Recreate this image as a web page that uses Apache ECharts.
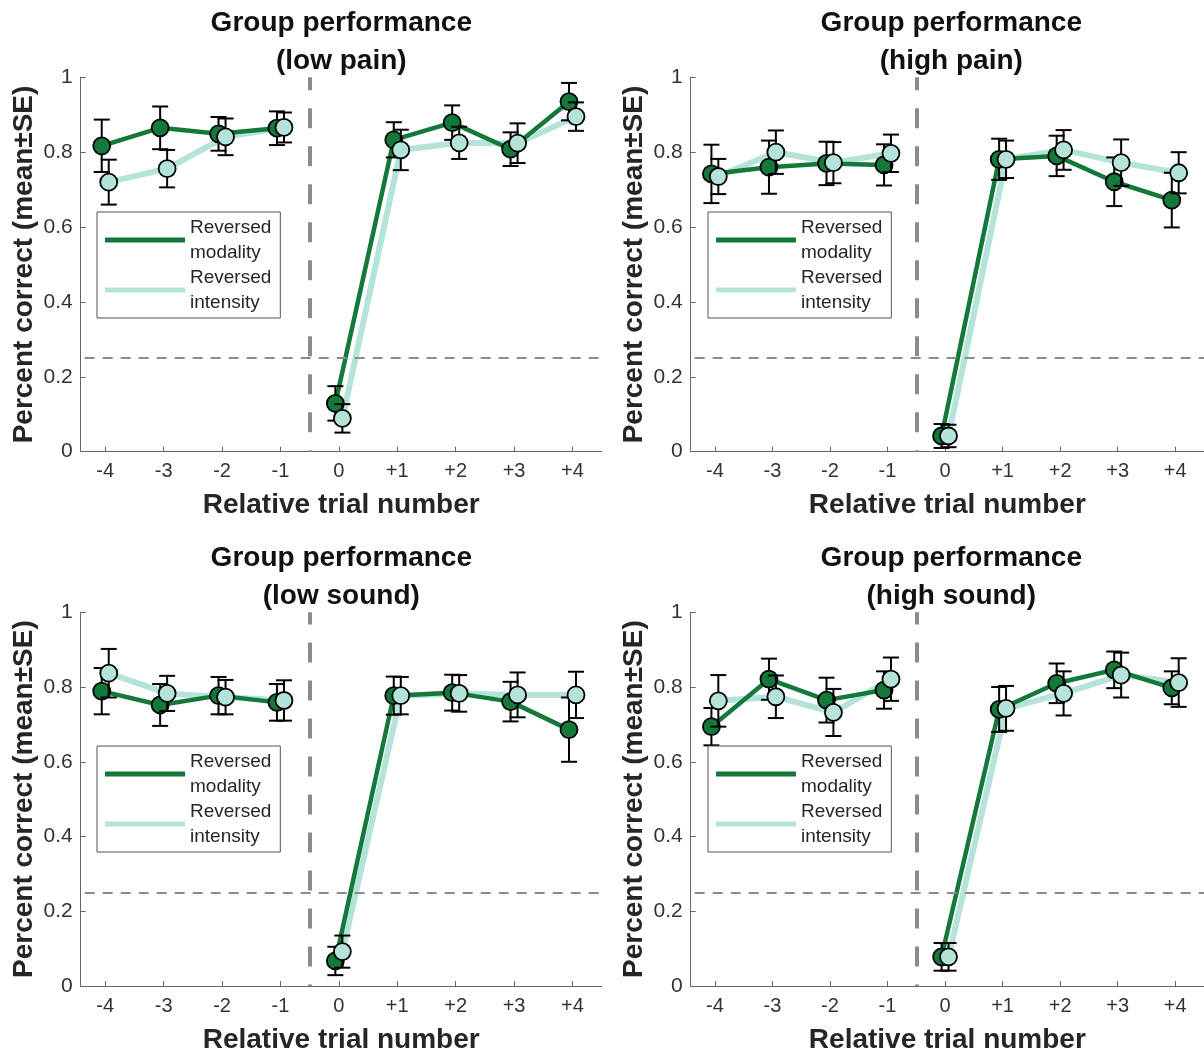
<!DOCTYPE html>
<html>
<head>
<meta charset="utf-8">
<script src="https://cdn.jsdelivr.net/npm/echarts@6/dist/echarts.min.js"></script>
<style>
  html, body { margin: 0; padding: 0; background: #fff; }
  #chart { width: 1204px; height: 1055px; }
</style>
</head>
<body>
<div id="chart"></div>
<script>
// ---------------- data ----------------
const trialNumbers = [-4, -3, -2, -1, 0, 1, 2, 3, 4];
const trialTickLabels = ['-4', '-3', '-2', '-1', '0', '+1', '+2', '+3', '+4'];
const yTickValues = [0, 0.2, 0.4, 0.6, 0.8, 1];
const CHANCE_LEVEL = 0.25;
const SWITCH_X = -0.5;

const panelTitles = [
  'Group performance\n(low pain)',
  'Group performance\n(high pain)',
  'Group performance\n(low sound)',
  'Group performance\n(high sound)'
];
const seriesNames = ['Reversed modality', 'Reversed intensity'];

// low pain
const lowPainModalityMean = [0.817, 0.865, 0.849, 0.864, 0.129, 0.833, 0.879, 0.808, 0.935];
const lowPainModalitySE   = [0.070, 0.057, 0.045, 0.045, 0.046, 0.047, 0.046, 0.045, 0.050];
const lowPainIntensityMean = [0.720, 0.756, 0.841, 0.866, 0.089, 0.806, 0.825, 0.824, 0.895];
const lowPainIntensitySE   = [0.060, 0.050, 0.049, 0.040, 0.038, 0.054, 0.043, 0.053, 0.038];

// high pain
const highPainModalityMean = [0.742, 0.760, 0.770, 0.766, 0.042, 0.781, 0.790, 0.721, 0.672];
const highPainModalitySE   = [0.078, 0.071, 0.058, 0.055, 0.032, 0.055, 0.054, 0.065, 0.073];
const highPainIntensityMean = [0.735, 0.800, 0.772, 0.797, 0.042, 0.781, 0.806, 0.772, 0.745];
const highPainIntensitySE   = [0.047, 0.058, 0.055, 0.050, 0.030, 0.050, 0.053, 0.062, 0.055];

// low sound
const lowSoundModalityMean = [0.789, 0.752, 0.777, 0.759, 0.067, 0.777, 0.785, 0.761, 0.686];
const lowSoundModalitySE   = [0.062, 0.056, 0.050, 0.049, 0.038, 0.051, 0.048, 0.053, 0.086];
const lowSoundIntensityMean = [0.837, 0.783, 0.773, 0.764, 0.092, 0.777, 0.783, 0.779, 0.779];
const lowSoundIntensitySE   = [0.065, 0.047, 0.046, 0.054, 0.043, 0.050, 0.049, 0.060, 0.062];

// high sound
const highSoundModalityMean = [0.694, 0.821, 0.765, 0.792, 0.078, 0.740, 0.810, 0.846, 0.798];
const highSoundModalitySE   = [0.050, 0.055, 0.060, 0.050, 0.037, 0.060, 0.053, 0.049, 0.044];
const highSoundIntensityMean = [0.763, 0.774, 0.732, 0.821, 0.078, 0.743, 0.783, 0.832, 0.812];
const highSoundIntensitySE   = [0.069, 0.057, 0.063, 0.058, 0.037, 0.060, 0.059, 0.060, 0.065];

const panels = [
  { title: panelTitles[0], mMean: lowPainModalityMean, mSE: lowPainModalitySE, iMean: lowPainIntensityMean, iSE: lowPainIntensitySE },
  { title: panelTitles[1], mMean: highPainModalityMean, mSE: highPainModalitySE, iMean: highPainIntensityMean, iSE: highPainIntensitySE },
  { title: panelTitles[2], mMean: lowSoundModalityMean, mSE: lowSoundModalitySE, iMean: lowSoundIntensityMean, iSE: lowSoundIntensitySE },
  { title: panelTitles[3], mMean: highSoundModalityMean, mSE: highSoundModalitySE, iMean: highSoundIntensityMean, iSE: highSoundIntensitySE }
];

// ---------------- layout / style ----------------
const FONT = 'Liberation Sans, Arial, Helvetica, sans-serif';
const DARK = '#13783a';
const LIGHT = '#b4e3d9';
const GRID_W = 521, GRID_H = 374.4;
const gridLeft = [80.7, 690.7, 80.7, 690.7];
const gridTop = [77.3, 77.3, 612.3, 612.3];
const X_MIN = -4.42, X_MAX = 4.5;
const DARK_OFFSET = -0.06, LIGHT_OFFSET = 0.06;

function lineData(mean, off) {
  const out = [];
  trialNumbers.forEach((t, i) => {
    if (i > 0 && trialNumbers[i - 1] < SWITCH_X && t > SWITCH_X) out.push(['-', '-']);
    out.push([t + off, mean[i]]);
  });
  return out;
}
function pointData(mean, off) { return trialNumbers.map((t, i) => [t + off, mean[i]]); }
function errData(mean, se, off) { return trialNumbers.map((t, i) => [t + off, mean[i], se[i]]); }

function errRender(params, api) {
  const x = api.value(0), y = api.value(1), se = api.value(2);
  const top = api.coord([x, y + se]);
  const bot = api.coord([x, y - se]);
  const hw = 8;
  const st = { stroke: '#000', lineWidth: 2 };
  return {
    type: 'group',
    children: [
      { type: 'line', shape: { x1: top[0], y1: top[1], x2: bot[0], y2: bot[1] }, style: st },
      { type: 'line', shape: { x1: top[0] - hw, y1: top[1], x2: top[0] + hw, y2: top[1] }, style: st },
      { type: 'line', shape: { x1: bot[0] - hw, y1: bot[1], x2: bot[0] + hw, y2: bot[1] }, style: st }
    ]
  };
}

const grids = [], xAxes = [], yAxes = [], series = [], titles = [], legends = [];
const titleCenters = [341.3, 951.3, 341.3, 951.3];
const titleTops = [4, 4, 539, 539];
const legendPos = [[97, 212], [708, 212], [97, 746], [708, 746]];

panels.forEach((p, g) => {
  grids.push({ left: gridLeft[g], top: gridTop[g], width: GRID_W, height: GRID_H, containLabel: false });
  xAxes.push({
    gridIndex: g, type: 'value', min: X_MIN, max: X_MAX,
    name: 'Relative trial number', nameLocation: 'middle', nameGap: 40,
    nameTextStyle: { fontFamily: FONT, fontSize: 28, fontWeight: 'bold', color: '#262626' },
    axisLine: { show: true, onZero: false, lineStyle: { color: '#666', width: 1 } },
    axisTick: { show: true, inside: true, length: 5, customValues: trialNumbers, lineStyle: { color: '#666' } },
    axisLabel: {
      show: true, customValues: trialNumbers, margin: 10,
      fontFamily: FONT, fontSize: 20, color: '#333',
      formatter: v => trialTickLabels[trialNumbers.indexOf(Math.round(v))]
    },
    splitLine: { show: false }
  });
  yAxes.push({
    gridIndex: g, type: 'value', min: 0, max: 1, interval: 0.2,
    name: 'Percent correct (mean\u00b1SE)', nameLocation: 'middle', nameGap: 42,
    nameTextStyle: { fontFamily: FONT, fontSize: 28, fontWeight: 'bold', color: '#262626' },
    axisLine: { show: true, onZero: false, lineStyle: { color: '#666', width: 1 } },
    axisTick: { show: true, inside: true, length: 5, lineStyle: { color: '#666' } },
    axisLabel: { margin: 8, fontFamily: FONT, fontSize: 21, color: '#333' },
    splitLine: { show: false }
  });
  titles.push({
    text: p.title, left: titleCenters[g], top: titleTops[g], textAlign: 'center', padding: 0,
    textStyle: { fontFamily: FONT, fontSize: 28, fontWeight: 'bold', color: '#111', lineHeight: 38 }
  });
  legends.push({
    data: seriesNames, orient: 'vertical', left: legendPos[g][0], top: legendPos[g][1],
    icon: 'rect', itemWidth: 80, itemHeight: 5, itemGap: 0,
    padding: [3, 9, 3, 8], borderColor: '#555', borderWidth: 1, backgroundColor: '#fff',
    selectedMode: false, z: 10,
    formatter: n => n.replace(' ', '\n'),
    textStyle: { fontFamily: FONT, fontSize: 19, lineHeight: 25, color: '#262626' }
  });

  // reference lines (attached to a helper series)
  series.push({
    type: 'line', name: 'ref' + g, xAxisIndex: g, yAxisIndex: g, data: [], z: 1, silent: true,
    markLine: {
      silent: true, symbol: 'none', animation: false, label: { show: false },
      data: [
        { yAxis: CHANCE_LEVEL, lineStyle: { color: '#8c8c8c', width: 2, type: [10, 8], dashOffset: 14 } },
        { xAxis: SWITCH_X, lineStyle: { color: '#8c8c8c', width: 4, type: [20, 18], dashOffset: 18.6 } }
      ]
    }
  });
  // lines
  series.push({
    type: 'line', name: seriesNames[1], xAxisIndex: g, yAxisIndex: g, data: lineData(p.iMean, LIGHT_OFFSET),
    showSymbol: false, symbol: 'none', connectNulls: false, z: 2, silent: true,
    itemStyle: { color: LIGHT }, lineStyle: { color: LIGHT, width: 6 }
  });
  series.push({
    type: 'line', name: seriesNames[0], xAxisIndex: g, yAxisIndex: g, data: lineData(p.mMean, DARK_OFFSET),
    showSymbol: false, symbol: 'none', connectNulls: false, z: 3, silent: true,
    itemStyle: { color: DARK }, lineStyle: { color: DARK, width: 4.5 }
  });
  // dark error bars + markers
  series.push({
    type: 'custom', name: 'errM' + g, xAxisIndex: g, yAxisIndex: g, data: errData(p.mMean, p.mSE, DARK_OFFSET),
    renderItem: errRender, encode: { x: 0, y: 1 }, z: 4, silent: true
  });
  series.push({
    type: 'scatter', name: 'ptM' + g, xAxisIndex: g, yAxisIndex: g, data: pointData(p.mMean, DARK_OFFSET),
    symbol: 'circle', symbolSize: 17, z: 5, silent: true,
    itemStyle: { color: DARK, borderColor: '#000', borderWidth: 1.8, opacity: 1 }
  });
  // light error bars + markers
  series.push({
    type: 'custom', name: 'errI' + g, xAxisIndex: g, yAxisIndex: g, data: errData(p.iMean, p.iSE, LIGHT_OFFSET),
    renderItem: errRender, encode: { x: 0, y: 1 }, z: 6, silent: true
  });
  series.push({
    type: 'scatter', name: 'ptI' + g, xAxisIndex: g, yAxisIndex: g, data: pointData(p.iMean, LIGHT_OFFSET),
    symbol: 'circle', symbolSize: 17, z: 7, silent: true,
    itemStyle: { color: LIGHT, borderColor: '#000', borderWidth: 1.8, opacity: 1 }
  });
});

const chart = echarts.init(document.getElementById('chart'), null, { renderer: 'canvas' });
chart.setOption({
  animation: false,
  backgroundColor: '#fff',
  textStyle: { fontFamily: FONT },
  title: titles,
  legend: legends,
  grid: grids,
  xAxis: xAxes,
  yAxis: yAxes,
  series: series
});
</script>
</body>
</html>
